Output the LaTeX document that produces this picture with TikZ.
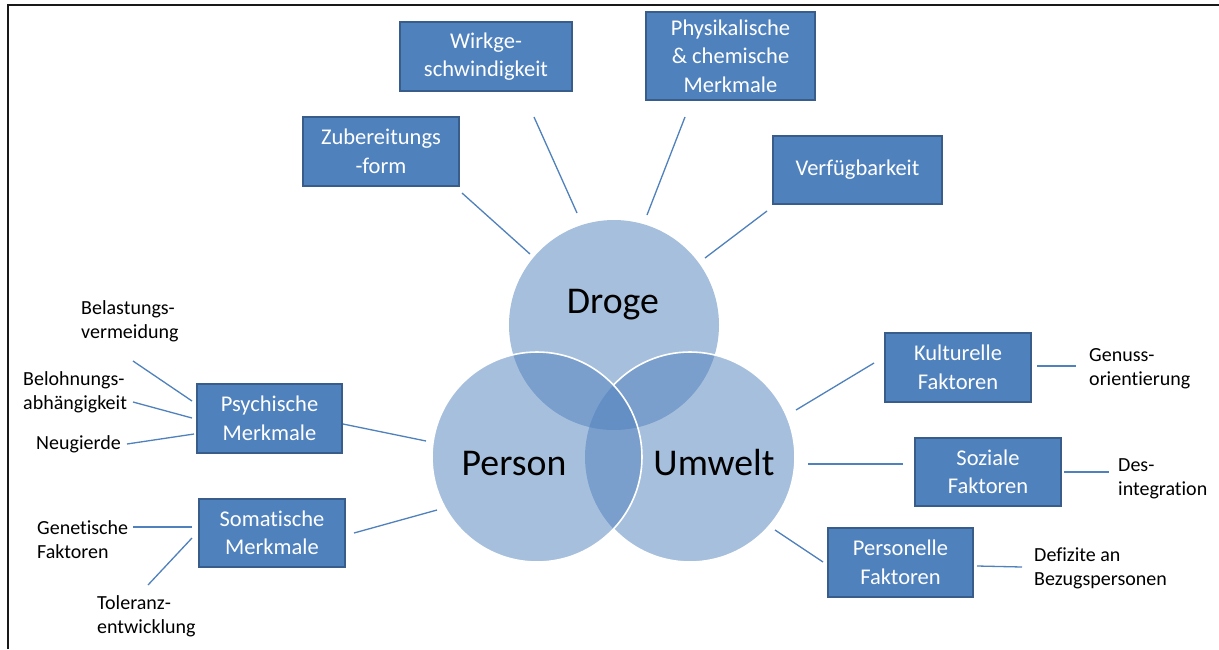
\documentclass[tikz,border=0pt]{standalone}
\usepackage{fontspec}
\setmainfont{Carlito}[Ligatures=NoCommon]
\definecolor{boxblue}{HTML}{4F81BD}
\definecolor{boxedge}{HTML}{385D8A}
\definecolor{linkblue}{HTML}{4F81BD}
\begin{document}
\begin{tikzpicture}[x=1pt,y=-1pt,
  box/.style={rectangle, fill=boxblue, draw=boxedge, line width=1.6pt,
    text=white, align=center, inner sep=0pt,
    font=\fontsize{22.5}{28.5}\selectfont},
  note/.style={align=left, inner sep=0pt, text=black,
    font=\fontsize{20}{23.4}\selectfont},
  ring/.style={circle, minimum size=210pt, inner sep=0pt, fill=boxblue,
    fill opacity=0.5},
  ringlabel/.style={font=\fontsize{37.8}{42}\selectfont, anchor=base},
  link/.style={draw=linkblue, line width=1.3pt}]

\useasboundingbox (0,0) rectangle (1219,649);
\fill[white] (0,0) rectangle (1219,649);
% frame: only left and top edges are in view
\draw[line width=2pt, black!90] (8,649) -- (8,5) -- (1219,5);

% the three overlapping circles
\node[ring] (droge) at (614,325) {};
\node[ring] (umwelt) at (690,457) {};
\node[ring] (person) at (537,457) {};
\draw[white, line width=1.6pt] (person.center) circle[radius=105];
\begin{scope}[even odd rule]
  \clip (0,0) rectangle (1219,649) (person.center) circle[radius=105];
  \draw[white, line width=1.6pt] (umwelt.center) circle[radius=105];
\end{scope}
\node[ringlabel] (tdroge) at (613,313) {Droge};
\node[ringlabel] (tperson) at (514,475) {Person};
\node[ringlabel] (tumwelt) at (714,475) {Umwelt};

% factor boxes
\node[box, minimum width=156pt, minimum height=69pt] (zub) at (381,151.5) {Zubereitungs\\-form};
\node[box, minimum width=172pt, minimum height=69pt] (wirk) at (486,56.5) {Wirkge-\\schwindigkeit};
\node[box, minimum width=169pt, minimum height=88pt] (phys) at (730.5,56) {Physikalische\\\& chemische\\Merkmale};
\node[box, minimum width=169pt, minimum height=68pt] (verf) at (857.5,170) {Verfügbarkeit};
\node[box, minimum width=145pt, minimum height=69pt] (psy) at (269.5,418.5) {Psychische\\Merkmale};
\node[box, minimum width=146pt, minimum height=68pt] (som) at (272,533) {Somatische\\Merkmale};
\node[box, minimum width=146pt, minimum height=69pt] (kult) at (958,367.5) {Kulturelle\\Faktoren};
\node[box, minimum width=146pt, minimum height=68pt] (soz) at (988,472) {Soziale\\Faktoren};
\node[box, minimum width=145pt, minimum height=69pt] (pers) at (900.5,562.5) {Personelle\\Faktoren};

% detail labels (anchored at the baseline of their last line)
\node[note, anchor=base west] (bel) at (81,338) {Belastungs-\\vermeidung};
\node[note, anchor=base west] (belo) at (23,409) {Belohnungs-\\abhängigkeit};
\node[note, anchor=base west] (neu) at (36,449) {Neugierde};
\node[note, anchor=base west] (gen) at (37,558) {Genetische\\Faktoren};
\node[note, anchor=base west] (tol) at (97,633) {Toleranz-\\entwicklung};
\node[note, anchor=base west] (genuss) at (1089,385) {Genuss-\\orientierung};
\node[note, anchor=base west] (des) at (1118,495) {Des-\\integration};
\node[note, anchor=base west] (def) at (1034,585) {Defizite an\\Bezugspersonen};

% connector end points
\coordinate (zubA) at (462,193);  \coordinate (zubB) at (530,254);
\coordinate (wirkA) at (534,117); \coordinate (wirkB) at (577,213);
\coordinate (physA) at (685,117); \coordinate (physB) at (647,215);
\coordinate (verfA) at (767,211); \coordinate (verfB) at (705,258);
\coordinate (psyA) at (343,424);  \coordinate (psyB) at (426,441);
\coordinate (somA) at (354,533);  \coordinate (somB) at (437,510);
\coordinate (kultA) at (874,363); \coordinate (kultB) at (796,410);
\coordinate (sozA) at (903,464);  \coordinate (sozB) at (808,464);
\coordinate (persA) at (823,562); \coordinate (persB) at (775,530);
\coordinate (genussA) at (1037,366); \coordinate (genussB) at (1076,366);
\coordinate (desA) at (1064,472);    \coordinate (desB) at (1109,472);
\coordinate (defA) at (977,566);     \coordinate (defB) at (1022,567);
\coordinate (belA) at (133,361);  \coordinate (belB) at (192,401);
\coordinate (beloA) at (133,402); \coordinate (beloB) at (192,418);
\coordinate (neuA) at (127,444);  \coordinate (neuB) at (194,434);
\coordinate (genA) at (133,527);  \coordinate (genB) at (192,527);
\coordinate (tolA) at (148,585);  \coordinate (tolB) at (192,538);

% connectors
\foreach \n in {zub,wirk,phys,verf,psy,som,kult,soz,pers,genuss,des,def,bel,belo,neu,gen,tol}
  \draw[link] (\n A) -- (\n B);
\end{tikzpicture}
\end{document}
